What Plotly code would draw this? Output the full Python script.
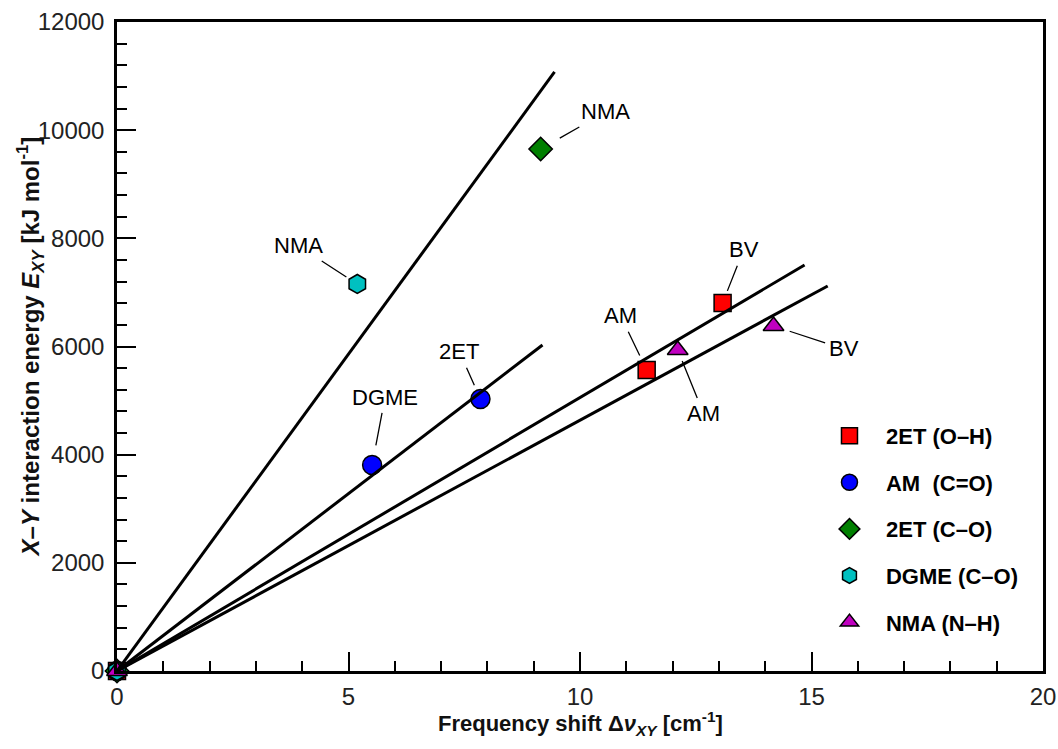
import plotly.graph_objects as go

FONT = "Arial, Liberation Sans, sans-serif"

# ---- data ----
series_names = ["2ET (O–H)", "AM\u00a0\u00a0(C=O)", "2ET (C–O)", "DGME (C–O)", "NMA (N–H)"]
series_colors = ["#ff0000", "#0000ff", "#007f00", "#00c0c0", "#c000c0"]
series_symbols = ["square", "circle", "diamond", "hexagon", "triangle-up"]
series_sizes = [17, 19, 18, 19, 18]

oh_x = [0, 11.44, 13.08]
oh_y = [0, 5566, 6805]
oh_labels = ["", "AM", "BV"]

co_x = [0, 5.51, 7.85]
co_y = [0, 3809, 5030]
co_labels = ["", "DGME", "2ET"]

et_co_x = [0, 9.15]
et_co_y = [0, 9652]
et_co_labels = ["", "NMA"]

dgme_x = [0, 5.19]
dgme_y = [0, 7156]
dgme_labels = ["", "NMA"]

nh_x = [0, 12.11, 14.18]
nh_y = [0, 5936, 6380]
nh_labels = ["", "AM", "BV"]

# fitted lines through the origin: end points
line_x_end = [9.45, 9.19, 14.85, 15.35]
line_y_end = [11076, 6028, 7507, 7119]

x_ticks = [0, 5, 10, 15, 20]
y_ticks = [0, 2000, 4000, 6000, 8000, 10000, 12000]

fig = go.Figure()

series = [(oh_x, oh_y), (co_x, co_y), (et_co_x, et_co_y), (dgme_x, dgme_y), (nh_x, nh_y)]
for i, (xs, ys) in enumerate(series):
    fig.add_trace(go.Scatter(
        x=xs, y=ys, mode="markers", name=series_names[i],
        legendgroup=f"g{i}",
        marker=dict(symbol=series_symbols[i], size=series_sizes[i],
                    color=series_colors[i], line=dict(color="black", width=1.5)),
        cliponaxis=False,
    ))

for xe, ye in zip(line_x_end, line_y_end):
    fig.add_trace(go.Scatter(x=[0, xe], y=[0, ye], mode="lines", showlegend=False,
                             line=dict(color="black", width=3), hoverinfo="skip"))

# label annotations (offsets in pixels, leader lines as arrows)
label_sets = [
    (oh_x, oh_y, oh_labels, {1: (-26, -54, 16), 2: (21, -53, 13)}),
    (co_x, co_y, co_labels, {1: (13, -68, 20), 2: (-21, -47, 15)}),
    (et_co_x, et_co_y, et_co_labels, {1: (65, -37, 22)}),
    (dgme_x, dgme_y, dgme_labels, {1: (-59, -38, 13)}),
    (nh_x, nh_y, nh_labels, {1: (26, 64, 12), 2: (70, 23, 17)}),
]
for xs, ys, labs, offs in label_sets:
    for k, (ax, ay, so) in offs.items():
        fig.add_annotation(x=xs[k], y=ys[k], text=labs[k], showarrow=True,
                           arrowhead=0, arrowwidth=1.3, arrowcolor="black",
                           ax=ax, ay=ay, standoff=so, startstandoff=2,
                           font=dict(family=FONT, size=22, color="black"))

# axis titles placed as annotations for exact positioning
fig.add_annotation(
    xref="paper", yref="paper", x=-0.094, y=0.5, xanchor="center", yanchor="middle",
    textangle=-90, showarrow=False,
    text="<b><i>X</i>–<i>Y</i> interaction energy <i>E</i><sub><i>XY</i></sub> [kJ mol<sup>-1</sup>]</b>",
    font=dict(family=FONT, size=24, color="#111"),
)
fig.add_annotation(
    xref="paper", yref="paper", x=0.5, y=-0.0805, xanchor="center", yanchor="middle",
    showarrow=False,
    text="<b>Frequency shift Δ<i>ν</i><sub><i>XY</i></sub> [cm<sup>-1</sup>]</b>",
    font=dict(family=FONT, size=22, color="#111"),
)

fig.update_layout(
    width=1058, height=749,
    margin=dict(l=117, r=15, t=22, b=78),
    paper_bgcolor="white", plot_bgcolor="white",
    font=dict(family=FONT, size=22, color="#222"),
    showlegend=True,
    legend=dict(x=0.7516, y=0.3946, xanchor="left", yanchor="top",
                font=dict(family=FONT, size=22, color="black", weight="bold"),
                tracegroupgap=15, bgcolor="rgba(0,0,0,0)", itemwidth=63),
    xaxis=dict(
        range=[0, 20], tickvals=x_ticks, ticktext=[str(v) for v in x_ticks],
        tickfont=dict(family=FONT, size=24, color="#222"),
        ticks="inside", ticklen=19, tickwidth=2, tickcolor="black",
        showline=True, linewidth=2.5, linecolor="black", mirror=True,
        showgrid=False, zeroline=False, automargin=False,
        minor=dict(dtick=1, ticks="inside", ticklen=10, tickwidth=2, tickcolor="black"),
        ticklabelstandoff=2,
    ),
    yaxis=dict(
        range=[0, 12000], tickvals=y_ticks, ticktext=[str(v) for v in y_ticks],
        tickfont=dict(family=FONT, size=24, color="#222"),
        ticks="inside", ticklen=19, tickwidth=2, tickcolor="black",
        showline=True, linewidth=2.5, linecolor="black", mirror=True,
        showgrid=False, zeroline=False, automargin=False,
        minor=dict(dtick=400, ticks="inside", ticklen=10, tickwidth=2, tickcolor="black"),
        ticklabelstandoff=5,
    ),
)

fig.write_html("out.html", config={"displayModeBar": False},
               post_script="document.body.style.margin='0';")
